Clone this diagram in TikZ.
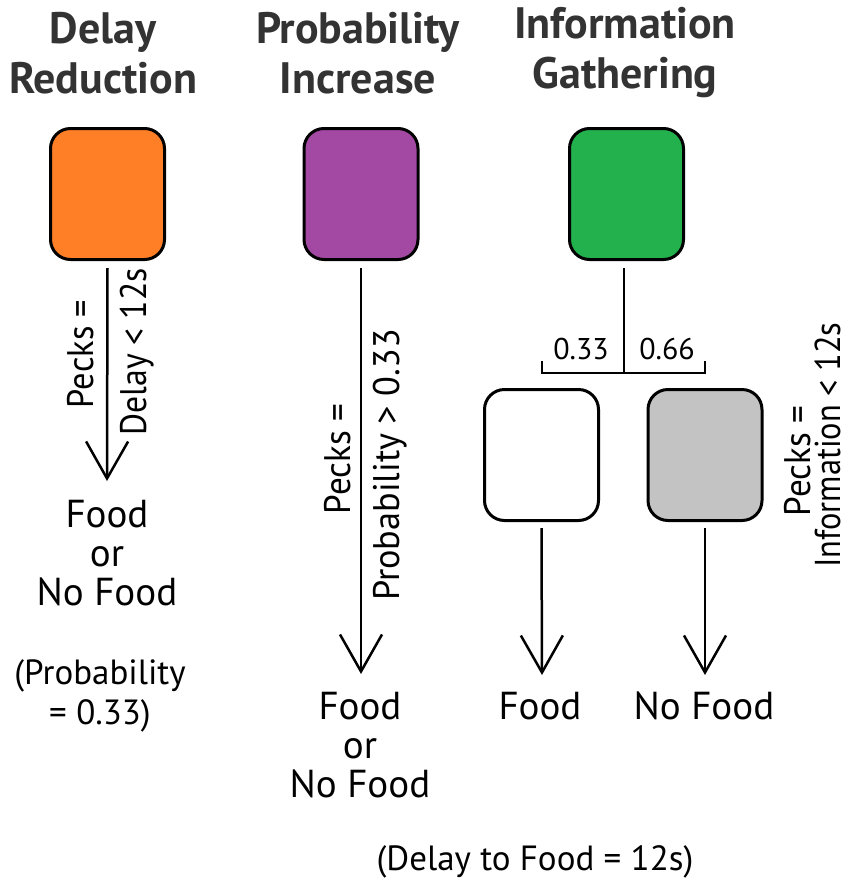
\documentclass[tikz,border=0pt]{standalone}
\usepackage{fontspec}
\setmainfont{PT Sans}
\usetikzlibrary{arrows.meta}
\definecolor{cOrange}{HTML}{FF7F27}
\definecolor{cPurple}{HTML}{A349A4}
\definecolor{cGreen}{HTML}{22B14C}
\definecolor{cGray}{HTML}{C3C3C3}
\definecolor{cTitle}{HTML}{333333}
\begin{document}
\begin{tikzpicture}[x=1pt,y=-1pt,
  box/.style={draw=black, line width=3pt, rounded corners=20pt, minimum width=114pt, minimum height=131pt, inner sep=0pt},
  ttl/.style={font=\fontsize{44}{50}\selectfont\bfseries, text=cTitle, align=center},
  res/.style={font=\fontsize{39}{39}\selectfont, align=center},
  lbl/.style={font=\fontsize{37}{37}\selectfont, rotate=90, anchor=base, inner sep=0pt},
  prob/.style={font=\fontsize{30}{30}\selectfont},
  note/.style={font=\fontsize{35}{40}\selectfont, align=center},
  conn/.style={line width=2.5pt},
  arr/.style={line width=2.5pt, -{Straight Barb[length=37pt,width=42pt]}}
]
\useasboundingbox (0,0) rectangle (851,892);

% titles
\node[ttl] (t1) at (103,53) {Delay\\Reduction};
\node[ttl] (t2) at (358,53) {Probability\\Increase};
\node[ttl] (t3) at (625,53) {Information\\Gathering};

% top boxes
\node[box, fill=cOrange] (b1) at (107.5,194) {};
\node[box, fill=cPurple] (b2) at (361,194) {};
\node[box, fill=cGreen] (b3) at (626.5,194) {};

% column 1
\coordinate (tip1) at (107,481);
\draw[arr] (b1.south) ++(0,7) -- (tip1);
\node[lbl] (p1) at (93,354) {\scalebox{0.93}[1]{Pecks =}};
\node[lbl] (d1) at (146,352) {\scalebox{0.91}[1]{Delay < 12s}};
\node[res] (r1) at (107,553) {Food\\or\\No Food};
\node[note] (n1) at (100,696) {(Probability\\= 0.33)};

% column 2
\coordinate (tip2) at (361,674);
\draw[arr] (b2.south) ++(0,7) -- (tip2);
\node[lbl] (p2) at (350,459) {\scalebox{0.95}[1]{Pecks =}};
\node[lbl] (d2) at (399,465) {\scalebox{0.98}[1]{Probability > 0.33}};
\node[res] (r2) at (360,745) {Food\\or\\No Food};

% column 3
\coordinate (br) at (624,373);
\coordinate (brL) at (542,373);
\coordinate (brR) at (705,373);
\draw[conn] (b3.south) ++(-2.5,7) -- (br);
\draw[conn] ([yshift=12pt]brL) -- (brL) -- (brR) -- ([yshift=12pt]brR);
\node[prob] (q1) at (581,349) {0.33};
\node[prob] (q2) at (667,349) {0.66};
\node[box, fill=white] (w) at (541.5,455) {};
\node[box, fill=cGray] (g) at (705,455) {};
\coordinate (tipW) at (542,675);
\coordinate (tipG) at (705,675);
\draw[arr] (w.south) ++(0,6) -- (tipW);
\draw[arr] (g.south) ++(0,6) -- (tipG);
\node[res] (fw) at (540,706) {Food};
\node[res] (fg) at (704,706) {No Food};
\node[lbl] (p3) at (810,461) {\scalebox{0.95}[1]{Pecks =}};
\node[lbl, font=\fontsize{36}{36}\selectfont] (d3) at (840,445) {\scalebox{0.9}[1]{Information < 12s}};

\node[note] (bottom) at (535,862) {(Delay to Food = 12s)};
\end{tikzpicture}
\end{document}
